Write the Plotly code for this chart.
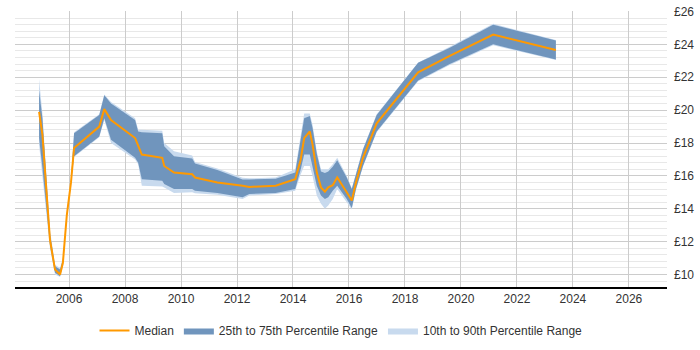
import plotly.graph_objects as go

years = [2004.93, 2005.05, 2005.32, 2005.50, 2005.68, 2005.78, 2005.92, 2006.07, 2006.18,
         2007.08, 2007.26, 2007.50, 2008.36, 2008.47, 2008.60, 2009.33, 2009.40, 2009.75,
         2010.40, 2010.50, 2011.30, 2012.20, 2012.44, 2013.38, 2014.08, 2014.27, 2014.40,
         2014.60, 2014.70, 2014.85, 2015.00, 2015.14, 2015.26, 2015.42, 2015.58, 2015.92,
         2016.10, 2016.25, 2016.50, 2016.99, 2018.47, 2019.60, 2021.15, 2023.39]
median = [19.9, 18.5, 12.1, 10.3, 10.0, 10.7, 13.6, 15.6, 17.7,
          19.0, 20.06, 19.4, 18.3, 17.8, 17.3, 17.1, 16.6, 16.2,
          16.1, 15.9, 15.6, 15.4, 15.33, 15.4, 15.8, 16.95, 18.3,
          18.7, 17.9, 16.2, 15.3, 15.04, 15.3, 15.43, 15.9, 15.0,
          14.5, 15.6, 17.1, 19.2, 22.3, 23.3, 24.6, 23.66]
p75 = [21.2, 19.5, 12.5, 10.5, 10.3, 10.9, 13.7, 15.7, 18.6,
       19.7, 20.9, 20.4, 19.4, 18.7, 18.66, 18.6, 17.8, 17.2,
       17.05, 16.75, 16.36, 15.78, 15.78, 15.82, 16.2, 18.3, 19.5,
       19.65, 18.9, 17.34, 16.26, 16.17, 16.26, 16.55, 16.95, 15.9,
       15.2, 16.1, 17.6, 19.7, 22.88, 23.8, 25.2, 24.24]
p25 = [18.3, 16.5, 11.8, 10.1, 9.9, 10.6, 13.5, 15.5, 17.2,
       18.4, 19.5, 18.2, 17.1, 16.8, 15.8, 15.7, 15.5, 15.2,
       15.2, 15.1, 14.96, 14.7, 14.9, 14.96, 15.2, 16.36, 17.3,
       17.3, 16.55, 15.4, 14.8, 14.6, 14.7, 15.1, 15.4, 14.6,
       14.05, 15.2, 16.6, 18.7, 21.8, 22.8, 24.0, 23.08]
p90 = [21.9, 19.8, 12.7, 10.6, 10.4, 11.0, 13.8, 15.8, 18.65,
       19.75, 20.95, 20.5, 19.5, 18.8, 18.8, 18.75, 18.0, 17.5,
       17.24, 16.85, 16.45, 15.88, 15.85, 15.9, 16.4, 18.5, 19.8,
       19.8, 19.1, 17.5, 16.4, 16.4, 16.4, 16.7, 17.1, 16.0,
       15.25, 16.15, 17.65, 19.75, 22.9, 23.85, 25.25, 24.27]
p10 = [17.9, 16.0, 11.6, 10.0, 9.85, 10.5, 13.4, 15.4, 17.15,
       18.35, 19.4, 18.0, 17.0, 16.7, 15.4, 15.35, 15.3, 14.96,
       15.0, 14.95, 14.85, 14.6, 14.8, 14.9, 15.1, 16.07, 16.6,
       16.6, 15.97, 14.8, 14.3, 14.0, 14.2, 14.6, 15.2, 14.4,
       13.95, 15.15, 16.55, 18.65, 21.75, 22.75, 23.95, 23.05]

x_ticks = [2006, 2008, 2010, 2012, 2014, 2016, 2018, 2020, 2022, 2024, 2026]
y_ticks = [10, 12, 14, 16, 18, 20, 22, 24, 26]

DARK = "#7095bd"
LIGHT = "#c8daee"
ORANGE = "#ff9900"
FONT = "Liberation Sans, Arial, sans-serif"

fig = go.Figure()
fig.add_trace(go.Scatter(x=years, y=p10, mode="lines", line=dict(width=0, color=LIGHT),
                         showlegend=False, hoverinfo="skip"))
fig.add_trace(go.Scatter(x=years, y=p90, mode="lines", line=dict(width=0, color=LIGHT),
                         fill="tonexty", fillcolor=LIGHT, name="10th to 90th Percentile Range",
                         legendrank=3))
fig.add_trace(go.Scatter(x=years, y=p25, mode="lines", line=dict(width=0, color=DARK),
                         showlegend=False, hoverinfo="skip"))
fig.add_trace(go.Scatter(x=years, y=p75, mode="lines", line=dict(width=0, color=DARK),
                         fill="tonexty", fillcolor=DARK, name="25th to 75th Percentile Range",
                         legendrank=2))
fig.add_trace(go.Scatter(x=years, y=median, mode="lines", line=dict(width=2, color=ORANGE),
                         name="Median", legendrank=1))

fig.update_layout(
    width=700, height=350,
    margin=dict(l=15, r=33, t=5, b=58),
    paper_bgcolor="white", plot_bgcolor="white",
    font=dict(family=FONT, size=12, color="#333333"),
    showlegend=True,
    legend=dict(orientation="h", x=0.5, xanchor="center", y=-0.105, yanchor="top",
                font=dict(family=FONT, size=12, color="#333333"), traceorder="normal",
                itemwidth=30),
    xaxis=dict(range=[2004.07, 2027.36], tickvals=x_ticks, ticktext=[str(v) for v in x_ticks],
               showgrid=True, gridcolor="#cccccc", gridwidth=1,
               showline=True, linecolor="#000000", linewidth=1.5,
               ticks="", zeroline=False, fixedrange=True),
    yaxis=dict(range=[9.24, 26.03], side="right", tickvals=y_ticks,
               ticktext=["£%d" % v for v in y_ticks],
               showgrid=True, gridcolor="#cccccc", gridwidth=1,
               minor=dict(dtick=0.4, tick0=10, showgrid=True, gridcolor="#e8e8e8", gridwidth=1),
               ticks="", zeroline=False, showline=False, ticklabelstandoff=6,
               ticklabeloverflow="allow"),
)

fig.write_html("out.html")
